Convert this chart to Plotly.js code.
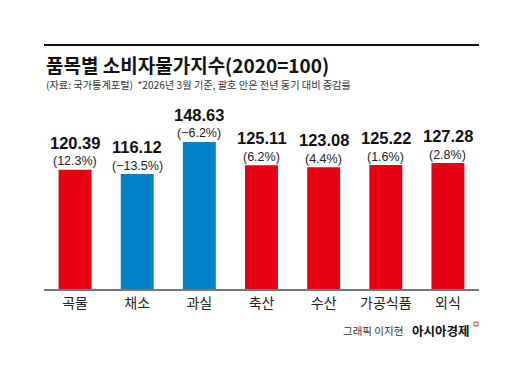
<!DOCTYPE html>
<html><head><meta charset="utf-8">
<script src="https://cdn.plot.ly/plotly-3.0.1.min.js"></script>
<style>html,body{margin:0;padding:0;background:#fff}#chart{width:532px;height:384px}</style>
</head><body><div id="chart"></div>
<script>
const categories = ["곡물","채소","과실","축산","수산","가공식품","외식"];
const values = [120.39, 116.12, 148.63, 125.11, 123.08, 125.22, 127.28];
const changes = ["(12.3%)","(−13.5%)","(−6.2%)","(6.2%)","(4.4%)","(1.6%)","(2.8%)"];
const barColors = ["#e60012","#0082c8","#0082c8","#e60012","#e60012","#e60012","#e60012"];

const FONT = "'Noto Sans CJK KR', 'Noto Sans', sans-serif";
const NUMFONT = "'Liberation Sans', Arial, sans-serif";
const PLOT_TOP = 100, PLOT_BOTTOM = 289, PLOT_LEFT = 44, PLOT_RIGHT = 479;
const PH = PLOT_BOTTOM - PLOT_TOP, PW = PLOT_RIGHT - PLOT_LEFT;

const annotations = [];
categories.forEach((c,i)=>{
  annotations.push({x:c, y:values[i], xref:'x', yref:'y', text:'<b>'+values[i].toFixed(2)+'</b>', showarrow:false,
    yshift:27, font:{family:NUMFONT, size:16.5, color:'#111'}, yanchor:'middle'});
  annotations.push({x:c, y:values[i], xref:'x', yref:'y', text:changes[i], showarrow:false,
    yshift:8.5, font:{family:NUMFONT, size:12.5, color:'#222'}, yanchor:'middle'});
});
annotations.push({xref:'paper', yref:'paper', x:0, y:1, xanchor:'left', yanchor:'middle',
  text:'<b>품목별 소비자물가지수(2020=100)</b>', showarrow:false, yshift:PLOT_TOP-64,
  font:{family:FONT, size:19, color:'#111'}});
annotations.push({xref:'paper', yref:'paper', x:0, y:1, xanchor:'left', yanchor:'middle',
  text:'(자료: 국가통계포털)  *2026년 3월 기준, 괄호 안은 전년 동기 대비 증감률', showarrow:false,
  yshift:PLOT_TOP-84.5, font:{family:FONT, size:10.2, color:'#333'}});
annotations.push({xref:'paper', yref:'paper', x:(405-PLOT_LEFT)/PW, y:0, xanchor:'right', yanchor:'middle',
  text:'그래픽 이지현', showarrow:false, yshift:PLOT_BOTTOM-330, font:{family:FONT, size:10.5, color:'#333'}});
annotations.push({xref:'paper', yref:'paper', x:(472-PLOT_LEFT)/PW, y:0, xanchor:'right', yanchor:'middle',
  text:'<b>아시아경제</b>', showarrow:false, yshift:PLOT_BOTTOM-330, font:{family:FONT, size:12.5, color:'#111'}});

const data = [{type:'bar', x:categories, y:values, marker:{color:barColors}, hoverinfo:'none'}];
const layout = {
  width:532, height:384, showlegend:false,
  margin:{l:PLOT_LEFT, r:532-PLOT_RIGHT, t:PLOT_TOP, b:384-PLOT_BOTTOM},
  paper_bgcolor:'#fff', plot_bgcolor:'#fff',
  bargap:0.47,
  xaxis:{showline:true, linecolor:'#777', linewidth:2, ticks:'', showgrid:false, zeroline:false,
    tickfont:{family:FONT, size:14, color:'#222'}, fixedrange:true},
  yaxis:{range:[0,191], visible:false, showgrid:false, zeroline:false, fixedrange:true},
  annotations:annotations,
  shapes:[
    {type:'line', xref:'paper', yref:'paper', x0:0, x1:1, y0:1+(PLOT_TOP-45)/PH, y1:1+(PLOT_TOP-45)/PH,
      line:{color:'#111', width:2}},
    {type:'rect', xref:'paper', yref:'paper', x0:(474-PLOT_LEFT)/PW, x1:(478-PLOT_LEFT)/PW,
      y0:-(322-PLOT_BOTTOM)/PH, y1:-(326-PLOT_BOTTOM)/PH, line:{color:'#d04050', width:1}, fillcolor:'rgba(0,0,0,0)'}
  ]
};
Plotly.newPlot('chart', data, layout, {displayModeBar:false, staticPlot:true});
</script></body></html>
